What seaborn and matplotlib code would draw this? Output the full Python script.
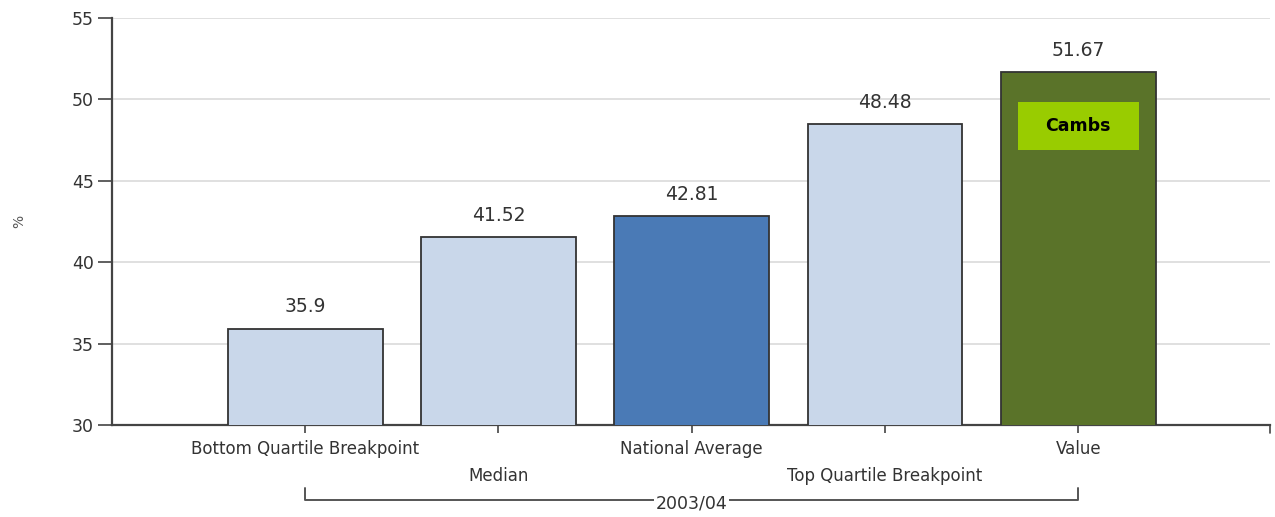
import matplotlib
matplotlib.use("Agg")
import matplotlib.pyplot as plt
import matplotlib.transforms as mtransforms
from matplotlib.patches import Rectangle
import seaborn as sns
import pandas as pd

categories = ["Bottom Quartile Breakpoint", "Median", "National Average",
              "Top Quartile Breakpoint", "Value"]
values = [35.9, 41.52, 42.81, 48.48, 51.67]
value_labels = ["35.9", "41.52", "42.81", "48.48", "51.67"]
colors = ["#C9D7EA", "#C9D7EA", "#4A7AB6", "#C9D7EA", "#5A7329"]
yticks = [30, 35, 40, 45, 50, 55]
group_label = "2003/04"
badge_text = "Cambs"

sns.set_theme(style="white")
plt.rcParams['font.family'] = ['DejaVu Sans']

df = pd.DataFrame({"cat": categories, "val": values})

fig = plt.figure(figsize=(12.75, 5.17), dpi=100)
ax = fig.add_axes([0.0878, 0.178, 0.908, 0.787])

sns.barplot(data=df, x="cat", y="val", hue="cat", palette=colors,
            legend=False, width=0.8, edgecolor="#333333", linewidth=1.3,
            saturation=1, ax=ax, zorder=3)

ax.set_ylim(30, 55)
ax.set_xlim(-1, 4.99)
ax.set_yticks(yticks)
ax.set_yticklabels([str(t) for t in yticks], fontsize=12.5, color="#333333")
ax.yaxis.grid(True, color="#DADADA", linewidth=1.2, zorder=0)
ax.xaxis.grid(False)

labels = [c if i % 2 == 0 else "\n" + c for i, c in enumerate(categories)]
ax.set_xticks(range(len(categories)))
ax.set_xticklabels(labels, fontsize=12, color="#333333", linespacing=1.65)
ax.set_xlabel("")
ax.set_ylabel("%", fontsize=10, color="#555555")
ax.yaxis.set_label_coords(-0.074, 0.5)

ax.tick_params(axis="y", direction="out", length=10, width=1.2,
               color="#444444", left=True, pad=3)
ax.tick_params(axis="x", direction="out", length=6, width=1.2,
               color="#444444", bottom=True, pad=5)

for s in ["top", "right"]:
    ax.spines[s].set_visible(False)
for s in ["left", "bottom"]:
    ax.spines[s].set_color("#444444")
    ax.spines[s].set_linewidth(1.6)

for i, cont in enumerate(ax.containers):
    ax.bar_label(cont, labels=[value_labels[i]], padding=9, fontsize=13.5,
                 color="#333333")

# right-end small tick
trans = mtransforms.blended_transform_factory(ax.transData, ax.transAxes)
ax.plot([4.99, 4.99], [0, -0.02], transform=trans, color="#444444",
        lw=1.2, clip_on=False)

# group bracket
yb = -0.184
ax.plot([0, 0, 4, 4], [-0.155, yb, yb, -0.155], transform=trans,
        color="#555555", lw=1.4, clip_on=False)
ax.text(2, yb - 0.01, group_label, transform=trans, ha="center", va="center",
        fontsize=12.5, color="#333333",
        bbox=dict(facecolor="white", edgecolor="none", pad=1))

# badge
ax.add_patch(Rectangle((3.687, 46.9), 0.626, 2.95, facecolor="#99CC00",
                       edgecolor="none", zorder=4))
ax.text(4, 48.37, badge_text, ha="center", va="center", fontsize=12.5,
        fontweight="bold", color="black", zorder=5)

fig.savefig("out.png", dpi=100)
